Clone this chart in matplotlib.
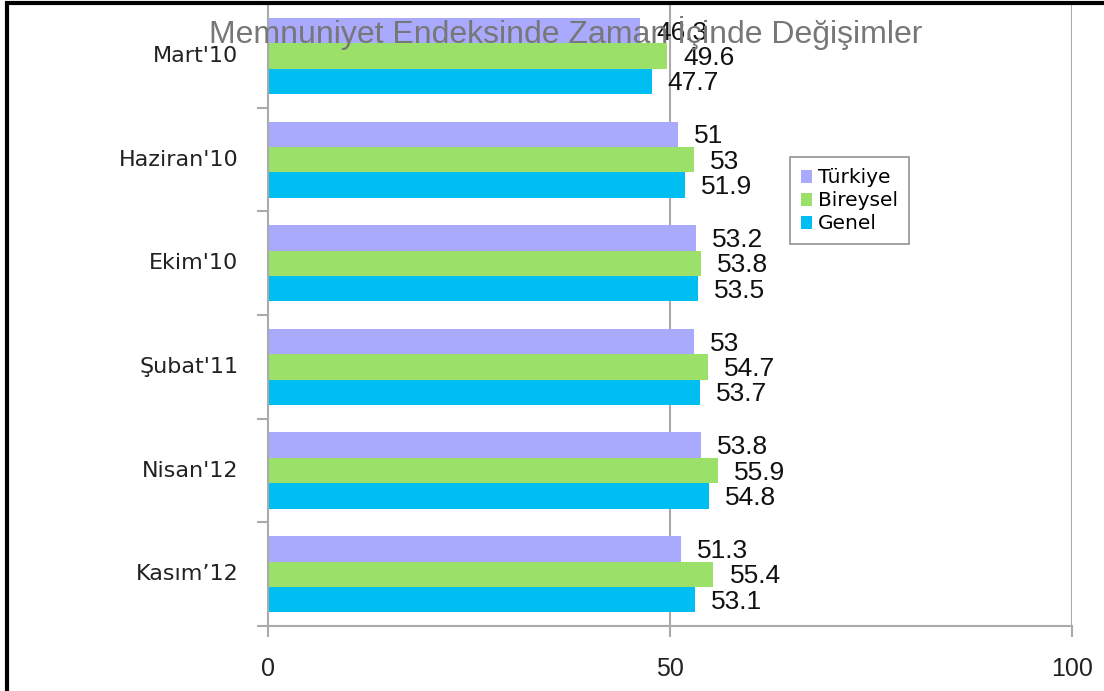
import matplotlib.pyplot as plt
import numpy as np
from matplotlib.patches import Rectangle

periods = ["Mart'10", "Haziran'10", "Ekim'10", "Şubat'11", "Nisan'12", "Kasım’12"]
turkiye = [46.3, 51, 53.2, 53, 53.8, 51.3]
bireysel = [49.6, 53, 53.8, 54.7, 55.9, 55.4]
genel = [47.7, 51.9, 53.5, 53.7, 54.8, 53.1]
series_names = ["Türkiye", "Bireysel", "Genel"]
colors = ["#a9a9fd", "#9be068", "#00bef2"]

fig = plt.figure(figsize=(11.04, 6.91), dpi=100)
ax = fig.add_axes([0.2428, 0.094, 0.7283, 0.9])

y = np.arange(len(periods))
h = 0.245
for i, (vals, name, col) in enumerate(zip([turkiye, bireysel, genel], series_names, colors)):
    pos = y + (i - 1) * h
    ax.barh(pos, vals, height=h, color=col, label=name, zorder=2)
    for p, v in zip(pos, vals):
        ax.text(v + 2.0, p + 0.02, f"{v:g}", va="center", ha="left", fontsize=19,
                family="Liberation Sans", color="#111111", zorder=4)

ax.set_xlim(0, 100)
ax.set_ylim(len(periods) - 0.5, -0.5)
ax.set_xticks([0, 50, 100])
ax.set_xticklabels(["0", "50", "100"], family="Liberation Sans", fontsize=18, color="#222222")
ax.tick_params(axis="x", length=8, pad=14, color="#aaaaaa", width=1.5)

# category boundaries carry the y tick marks
ax.set_yticks(np.arange(len(periods) + 1) - 0.5)
ax.set_yticklabels([])
ax.tick_params(axis="y", length=8, color="#aaaaaa", width=1.5)
for yi, lab in zip(y, periods):
    ax.text(-3.7, yi, lab, ha="right", va="center", fontsize=16, family="DejaVu Sans",
            color="#222222")

for s in ["top", "right"]:
    ax.spines[s].set_visible(False)
for s in ["left", "bottom"]:
    ax.spines[s].set_color("#aaaaaa")
    ax.spines[s].set_linewidth(1.5)
for gx in [50, 100]:
    ax.axvline(gx, color="#aaaaaa", lw=1.5, zorder=1)

leg = ax.legend(loc="upper left", bbox_to_anchor=(0.649, 0.754), frameon=True,
                fancybox=False, edgecolor="#777777", handlelength=0.55, handleheight=0.6,
                handletextpad=0.3, borderpad=0.55, labelspacing=0.2, borderaxespad=0,
                prop={"family": "DejaVu Sans", "size": 14.5})
leg.get_frame().set_linewidth(1.2)

fig.text(0.512, 0.953, "Memnuniyet Endeksinde Zaman İçinde Değişimler", ha="center", va="center",
         fontsize=23, family="Liberation Sans", color="#777777", zorder=5)

# outer frame on the left and top
fig.patches.append(Rectangle((0.006, -0.01), 1.2, 1.006, transform=fig.transFigure,
                             fill=False, edgecolor="black", lw=3))

fig.savefig("out.png", dpi=100)
